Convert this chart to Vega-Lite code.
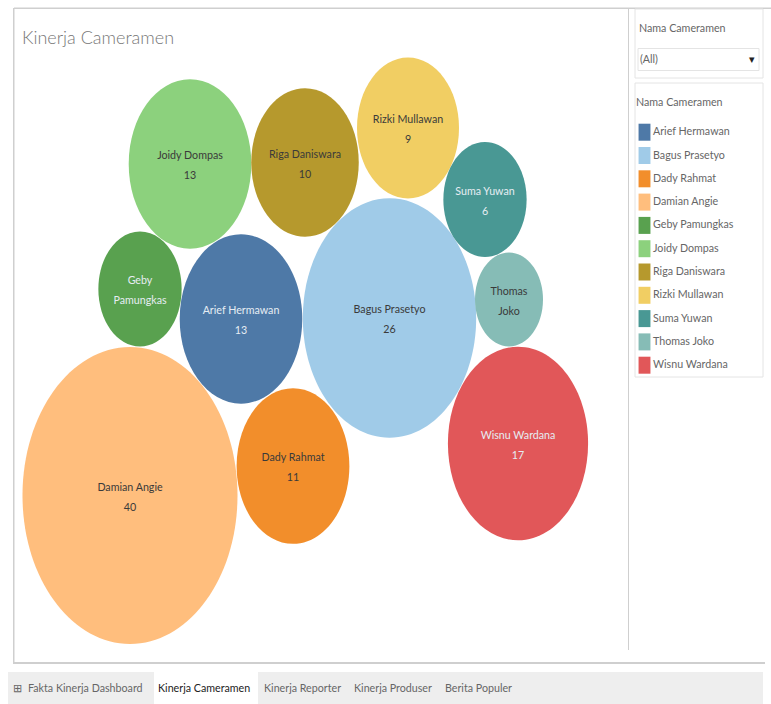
{
 "$schema":"https://vega.github.io/schema/vega-lite/v6.json",
 "width":771,"height":704,"padding":0,"autosize":{"type":"none"},
 "background":"#ffffff",
 "title":{"text":"Kinerja Cameramen","anchor":"start","frame":"group","dx":22,"offset":-48,"font":"Lato","fontSize":18,"fontWeight":300,"color":"#777777"},
 "config":{"view":{"stroke":null},"font":"Lato"},
 "datasets":{
  "bubbles":[
   {"name":"Arief Hermawan","count":13,"label":"Arief Hermawan|13","px":241,"py":319},
   {"name":"Bagus Prasetyo","count":26,"label":"Bagus Prasetyo|26","px":389.5,"py":318},
   {"name":"Dady Rahmat","count":11,"label":"Dady Rahmat|11","px":293,"py":466},
   {"name":"Damian Angie","count":40,"label":"Damian Angie|40","px":130,"py":495.5},
   {"name":"Geby Pamungkas","count":6,"label":"Geby|Pamungkas","px":140,"py":289},
   {"name":"Joidy Dompas","count":13,"label":"Joidy Dompas|13","px":190,"py":164},
   {"name":"Riga Daniswara","count":10,"label":"Riga Daniswara|10","px":305,"py":162.5},
   {"name":"Rizki Mullawan","count":9,"label":"Rizki Mullawan|9","px":408,"py":128},
   {"name":"Suma Yuwan","count":6,"label":"Suma Yuwan|6","px":485,"py":199.5},
   {"name":"Thomas Joko","count":4,"label":"Thomas|Joko","px":509,"py":299.5},
   {"name":"Wisnu Wardana","count":17,"label":"Wisnu Wardana|17","px":518,"py":443.5}
  ],
  "panels":[
   {"part":"tab bar","a":8,"b":763,"c":672,"d":704,"kind":"bar"},
   {"part":"active tab","a":154,"b":258,"c":672,"d":704,"kind":"active"},
   {"part":"top line","a":14,"b":771,"c":7.5,"d":9,"kind":"line"},
   {"part":"left line","a":13,"b":14.5,"c":8,"d":663,"kind":"line"},
   {"part":"bottom line","a":13,"b":765,"c":662,"d":664,"kind":"line"},
   {"part":"divider","a":628,"b":629,"c":8,"d":650,"kind":"line"}
  ],
  "boxes":[
   {"part":"filter panel","a":635,"b":763,"c":9,"d":78},
   {"part":"legend panel","a":635,"b":763,"c":83,"d":377},
   {"part":"dropdown","a":638,"b":759,"c":48.5,"d":70.5}
  ],
  "captions":[
   {"text":"Nama Cameramen","tx":639,"ty":29,"weight":"normal","shade":"other"},
   {"text":"(All)","tx":640,"ty":60,"weight":"normal","shade":"other"},
   {"text":"▾","tx":749,"ty":60,"weight":"normal","shade":"active"},
   {"text":"⊞","tx":13,"ty":689,"weight":"normal","shade":"other"},
   {"text":"Fakta Kinerja Dashboard","tx":28,"ty":689,"weight":"normal","shade":"other"},
   {"text":"Kinerja Cameramen","tx":158,"ty":689,"weight":"bold","shade":"active"},
   {"text":"Kinerja Reporter","tx":264,"ty":689,"weight":"normal","shade":"other"},
   {"text":"Kinerja Produser","tx":354,"ty":689,"weight":"normal","shade":"other"},
   {"text":"Berita Populer","tx":445,"ty":689,"weight":"normal","shade":"other"}
  ]
 },
 "layer":[
  {"data":{"name":"panels"},"mark":{"type":"rect"},
   "encoding":{
    "x":{"field":"a","type":"quantitative","scale":{"domain":[0,771],"nice":false,"zero":false},"axis":null},
    "x2":{"field":"b"},
    "y":{"field":"c","type":"quantitative","scale":{"domain":[704,0],"nice":false,"zero":false},"axis":null},
    "y2":{"field":"d"},
    "fill":{"field":"kind","type":"nominal","legend":null,"scale":{"domain":["bar","active","line"],"range":["#eeeeee","#ffffff","#cfcfcf"]}}
   }},
  {"data":{"name":"boxes"},"mark":{"type":"rect","fill":"#ffffff","stroke":"#e4e4e4","strokeWidth":1},
   "encoding":{
    "x":{"field":"a","type":"quantitative","axis":null},"x2":{"field":"b"},
    "y":{"field":"c","type":"quantitative","axis":null},"y2":{"field":"d"}
   }},
  {"data":{"name":"bubbles"},
   "mark":{"type":"point","filled":true,"opacity":1,"shape":"M-0.724,0A0.724,1,0,1,0,0.724,0A0.724,1,0,1,0,-0.724,0Z"},
   "encoding":{
    "x":{"field":"px","type":"quantitative","axis":null},
    "y":{"field":"py","type":"quantitative","axis":null},
    "size":{"field":"count","type":"quantitative","legend":null,"scale":{"domain":[0,40],"range":[0,88209],"zero":true}},
    "color":{"field":"name","type":"nominal",
     "scale":{"domain":["Arief Hermawan","Bagus Prasetyo","Dady Rahmat","Damian Angie","Geby Pamungkas","Joidy Dompas","Riga Daniswara","Rizki Mullawan","Suma Yuwan","Thomas Joko","Wisnu Wardana"],
      "range":["#4e79a7","#a0cbe8","#f28e2b","#ffbe7d","#59a14f","#8cd17d","#b6992d","#f1ce63","#499894","#86bcb6","#e15759"]},
     "legend":{"title":"Nama Cameramen","orient":"none","legendX":634,"legendY":96,"padding":2,
      "titleFont":"Lato","titleFontSize":10.7,"titleFontWeight":"normal","titleColor":"#666666","titlePadding":15,
      "labelFont":"Lato","labelFontSize":10.7,"labelColor":"#666666","labelOffset":0,"labelLimit":105,
      "symbolType":"M-0.7,-1H0.7V1H-0.7Z","symbolSize":289,"symbolOpacity":1,"symbolStrokeWidth":0,"rowPadding":6.3,"offset":0}}
   }},
  {"data":{"name":"bubbles"},
   "mark":{"type":"text","lineBreak":"|","lineHeight":20,"font":"Lato","fontSize":10.7,"baseline":"middle","align":"center","dy":-8},
   "encoding":{
    "x":{"field":"px","type":"quantitative","axis":null},
    "y":{"field":"py","type":"quantitative","axis":null},
    "text":{"field":"label","type":"nominal"},
    "color":{"condition":{"test":"indexof(['Arief Hermawan','Geby Pamungkas','Suma Yuwan','Wisnu Wardana'],datum.name)>=0","value":"#e6edf3"},"value":"#3a3a3a"}
   }},
  {"data":{"name":"captions"},
   "mark":{"type":"text","font":"Lato","fontSize":10.7,"baseline":"middle","align":"left"},
   "encoding":{
    "x":{"field":"tx","type":"quantitative","axis":null},
    "y":{"field":"ty","type":"quantitative","axis":null},
    "text":{"field":"text","type":"nominal"},
    "fontWeight":{"field":"weight","type":"nominal","legend":null,"scale":null},
    "color":{"condition":{"test":"datum.shade==='active'","value":"#222222"},"value":"#666666"}
   }}
 ]
}
